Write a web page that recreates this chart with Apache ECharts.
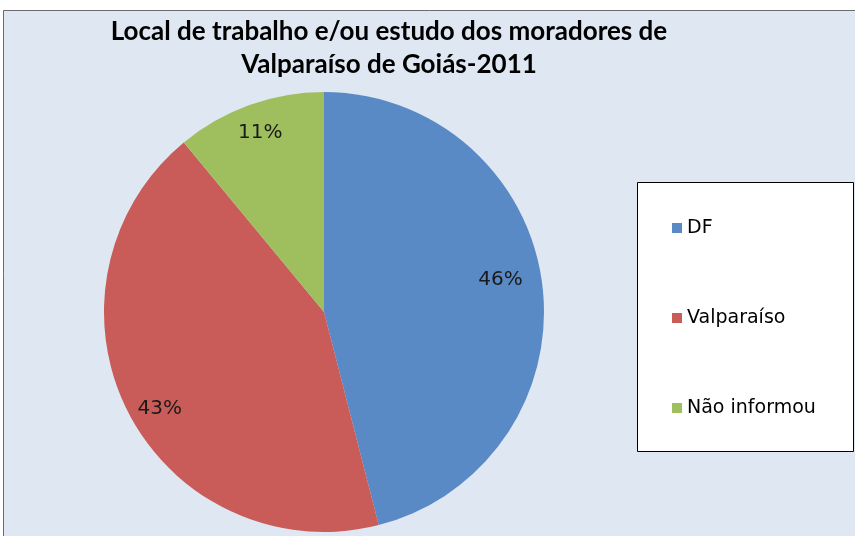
<!DOCTYPE html>
<html>
<head>
<meta charset="utf-8">
<script src="https://cdn.jsdelivr.net/npm/echarts@6/dist/echarts.min.js"></script>
<style>
html,body{margin:0;padding:0;background:#fff;}
#c{width:855px;height:536px;}
</style>
</head>
<body>
<div id="c"></div>
<script>
const titleText = 'Local de trabalho e/ou estudo dos moradores de\nValparaíso de Goiás-2011';
const categories = ['DF', 'Valparaíso', 'Não informou'];
const values = [46, 43, 11];
const colors = ['#5A8AC6', '#C95B59', '#9FBF5F'];
const labelShift = [[-13, -8], [6, 10], [1, 1]];

const TITLE_FONT = 'Lato, "Open Sans", sans-serif';
const FONT = '"DejaVu Sans", sans-serif';
const data = categories.map((name, i) => ({ name, value: values[i], itemStyle: { color: colors[i] } }));

const chart = echarts.init(document.getElementById('c'));
chart.setOption({
  backgroundColor: '#ffffff',
  animation: false,
  graphic: [
    { type: 'rect', z: -10, shape: { x: 3.5, y: 10.5, width: 860, height: 540 },
      style: { fill: '#DEE7F2', stroke: '#6b6b6b', lineWidth: 1 } },
    { type: 'rect', z: -5, shape: { x: 637.5, y: 182.5, width: 216, height: 269 },
      style: { fill: '#ffffff', stroke: '#000000', lineWidth: 1 } }
  ],
  title: {
    text: titleText,
    left: 384,
    top: 10,
    textAlign: 'center',
    textStyle: { fontFamily: TITLE_FONT, fontWeight: 'bold', fontSize: 26, color: '#000', lineHeight: 33 }
  },
  legend: {
    orient: 'vertical',
    left: 667,
    top: 213,
    padding: 5,
    icon: 'rect',
    itemWidth: 10,
    itemHeight: 10,
    itemGap: 70,
    data: categories,
    textStyle: { fontFamily: FONT, fontSize: 19, color: '#000', lineHeight: 20 }
  },
  series: [
    {
      type: 'pie',
      center: [324, 312],
      radius: [0, 220],
      startAngle: 90,
      clockwise: true,
      silent: true,
      label: { show: false },
      labelLine: { show: false },
      data: data
    },
    {
      type: 'pie',
      center: [324, 312],
      radius: [156, 220],
      startAngle: 90,
      clockwise: true,
      silent: true,
      legendHoverLink: false,
      itemStyle: { color: 'rgba(0,0,0,0)' },
      label: {
        show: true,
        position: 'inside',
        formatter: '{d}%',
        fontFamily: FONT,
        fontSize: 20,
        color: '#1a1a1a'
      },
      labelLayout: function (p) {
        const s = labelShift[p.dataIndex] || [0, 0];
        return { dx: s[0], dy: s[1] };
      },
      labelLine: { show: false },
      data: categories.map((name, i) => ({ name: name + ' ', value: values[i] }))
    }
  ]
});
</script>
</body>
</html>
